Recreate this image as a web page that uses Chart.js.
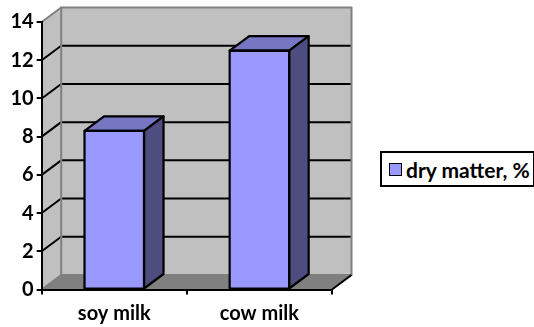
<!DOCTYPE html>
<html><head><meta charset="utf-8">
<script src="https://cdn.jsdelivr.net/npm/chart.js@4.4.1/dist/chart.umd.min.js"></script>
<style>
html,body{margin:0;padding:0;background:#fff;}
#wrap{position:relative;width:534px;height:327px;overflow:hidden;}
#legend{position:absolute;left:380px;top:151px;width:151px;height:32px;border:2px solid #000;background:#fff;font:bold 21px Lato, sans-serif;display:flex;align-items:center;white-space:nowrap;color:#000;}
#legend .sw{width:11px;height:11px;border:1.5px solid #000;margin-left:7px;margin-right:4px;flex:none;}
</style></head>
<body><div id="wrap"><canvas id="c" width="534" height="327"></canvas><div id="legend"></div></div>
<script>
const categories = ['soy milk', 'cow milk'];
const seriesLabel = 'dry matter, %';
const dryMatter = [8.3, 12.5];
const yMin = 0, yMax = 14, yStep = 2;

const FRONT = '#9999FF', TOPC = '#7676C2', SIDEC = '#4D4D80';
const DX = 19.5, DY = -14.5;

function poly(ctx, pts){ ctx.beginPath(); pts.forEach((p,i)=> i?ctx.lineTo(p[0],p[1]):ctx.moveTo(p[0],p[1])); ctx.closePath(); }
function seg(ctx, x1,y1,x2,y2){ ctx.beginPath(); ctx.moveTo(x1,y1); ctx.lineTo(x2,y2); ctx.stroke(); }

const walls = {
  id: 'walls3d',
  beforeDraw(chart){
    const {ctx, chartArea:a, scales:{y}} = chart;
    const L=a.left, R=a.right, T=y.getPixelForValue(yMax), B=y.getPixelForValue(yMin);
    ctx.save();
    ctx.fillStyle='#C0C0C0';
    poly(ctx, [[L,B],[L,T],[L+DX,T+DY],[L+DX,B+DY]]); ctx.fill();
    ctx.fillRect(L+DX, T+DY, R-L, B-T);
    ctx.fillStyle='#808080';
    poly(ctx, [[L,B],[R,B],[R+DX,B+DY],[L+DX,B+DY]]); ctx.fill();
    ctx.strokeStyle='#000'; ctx.lineWidth=2;
    y.ticks.forEach(t => {
      if (t.value<=yMin || t.value>=yMax) return;
      const p=y.getPixelForValue(t.value);
      seg(ctx, L,p,L+DX,p+DY);
      seg(ctx, L+DX,p+DY,R+DX,p+DY);
    });
    ctx.strokeStyle='#808080'; ctx.lineWidth=2;
    ctx.strokeRect(L+DX, T+DY, R-L, B-T);
    seg(ctx, L,T,L+DX,T+DY);
    seg(ctx, L,B,L+DX,B+DY);
    ctx.strokeStyle='#000';
    seg(ctx, R,B,R+DX,B+DY);
    ctx.restore();
  },
  afterDatasetsDraw(chart){
    const {ctx} = chart;
    const meta = chart.getDatasetMeta(0);
    ctx.save();
    ctx.strokeStyle='#000'; ctx.lineWidth=2.2; ctx.lineJoin='round';
    meta.data.forEach(bar => {
      const {x, y:top, base, width} = bar.getProps(['x','y','base','width'], true);
      const l = x-width/2, r = x+width/2;
      poly(ctx, [[l,top],[r,top],[r+DX,top+DY],[l+DX,top+DY]]);
      ctx.fillStyle=TOPC; ctx.fill(); ctx.stroke();
      poly(ctx, [[r,top],[r+DX,top+DY],[r+DX,base+DY],[r,base]]);
      ctx.fillStyle=SIDEC; ctx.fill(); ctx.stroke();
      ctx.strokeRect(l, top, width, base-top);
    });
    ctx.restore();
  }
};

const tickFont = {family:'Lato, sans-serif', size:20, weight:'bold'};

function build(){
  const lg = document.getElementById('legend');
  const sw = document.createElement('span'); sw.className='sw'; sw.style.background=FRONT;
  const tx = document.createElement('span'); tx.textContent=seriesLabel;
  lg.appendChild(sw); lg.appendChild(tx);

  new Chart(document.getElementById('c'), {
    type:'bar',
    data:{labels:categories, datasets:[{label:seriesLabel, data:dryMatter, backgroundColor:FRONT, borderColor:'#000', borderWidth:0, barPercentage:0.41, categoryPercentage:1}]},
    options:{
      responsive:false, devicePixelRatio:1, animation:false,
      layout:{padding:{top:22,right:202,left:0,bottom:0}},
      plugins:{legend:{display:false}, tooltip:{enabled:false}},
      scales:{
        x:{
          grid:{display:true, drawOnChartArea:false, drawTicks:true, tickLength:5, color:'#000', lineWidth:2, offset:true},
          border:{display:true, color:'#000', width:2},
          ticks:{font:tickFont, color:'#000', padding:7, maxRotation:0},
          afterFit(s){ s.height = 37.5; }
        },
        y:{
          min:yMin, max:yMax,
          grid:{display:true, drawOnChartArea:false, drawTicks:true, tickLength:5, color:'#000', lineWidth:2},
          border:{display:true, color:'#000', width:2},
          ticks:{stepSize:yStep, font:tickFont, color:'#000', padding:3},
          afterFit(s){ s.width = 41.7; }
        }
      }
    },
    plugins:[walls]
  });
}
if (document.fonts && document.fonts.load) {
  document.fonts.load('bold 20px Lato').then(build, build);
} else build();
</script>
</body></html>
